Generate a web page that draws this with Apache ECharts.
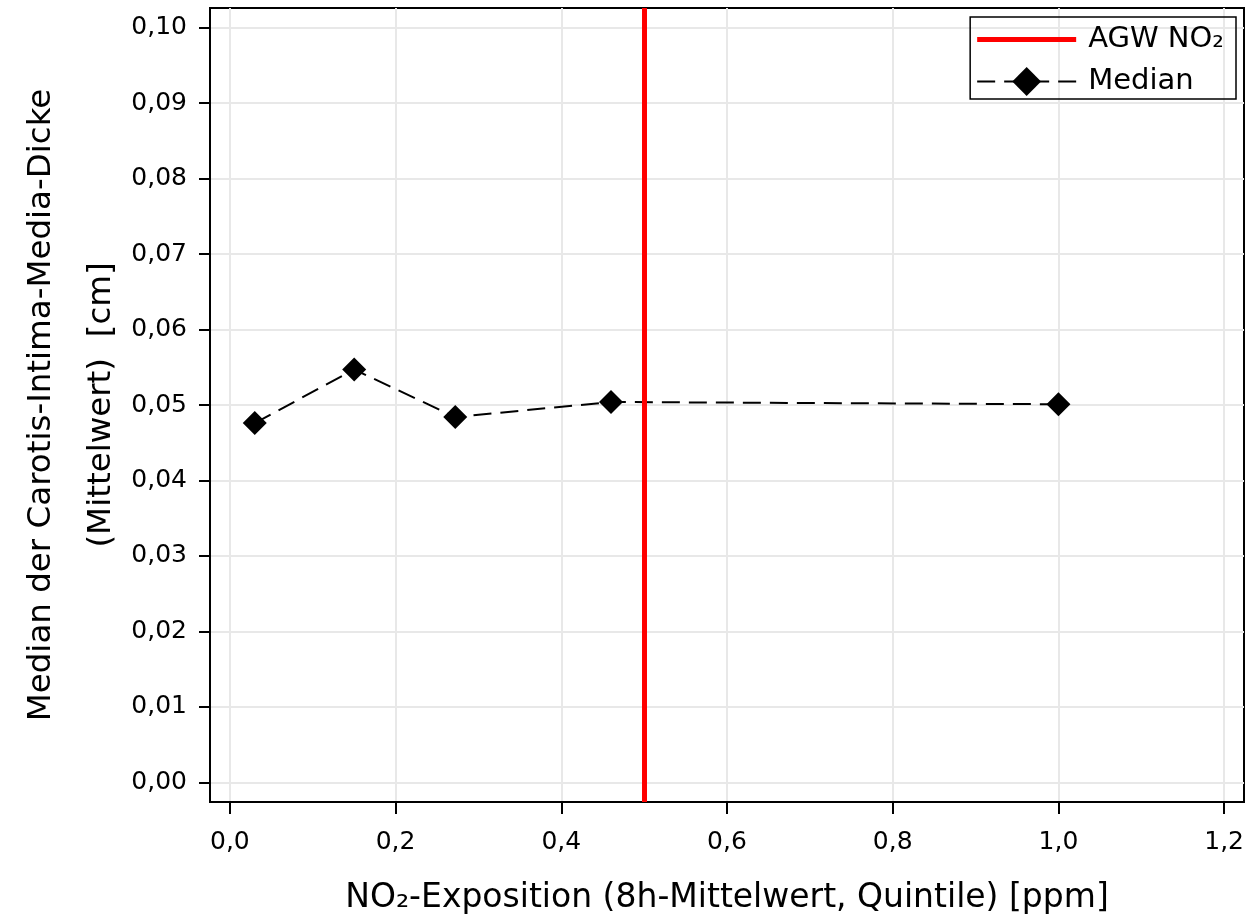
<!DOCTYPE html>
<html>
<head>
<meta charset="utf-8">
<script src="https://cdn.jsdelivr.net/npm/echarts@6/dist/echarts.min.js"></script>
<style>html,body{margin:0;padding:0;background:#fff}#chart{width:1257px;height:919px}</style>
</head>
<body>
<div id="chart"></div>
<script>
var xValues = [0.03, 0.15, 0.272, 0.46, 1.0];
var medianValues = [0.0476, 0.0547, 0.0484, 0.0504, 0.0501];
var agwLimit = 0.5;
var xTicks = [0.0, 0.2, 0.4, 0.6, 0.8, 1.0, 1.2];
var yTicks = [0.00, 0.01, 0.02, 0.03, 0.04, 0.05, 0.06, 0.07, 0.08, 0.09, 0.10];
var seriesNames = ['AGW NO\u2082', 'Median'];
var xTitle = 'NO\u2082-Exposition (8h-Mittelwert, Quintile) [ppm]';
var yTitle = 'Median der Carotis-Intima-Media-Dicke\n(Mittelwert)  [cm]';

var FONT = 'DejaVu Sans';
var chart = echarts.init(document.getElementById('chart'));
var pts = xValues.map(function (x, i) { return [x, medianValues[i]]; });
chart.setOption({
  animation: false,
  textStyle: { fontFamily: FONT, color: '#000' },
  grid: { left: 210, right: 13, top: 8, bottom: 117, outerBoundsMode: 'none', containLabel: false,
    show: true, borderColor: '#000', borderWidth: 2, backgroundColor: 'transparent' },
  legend: {
    orient: 'vertical', right: 21, top: 17,
    padding: [8, 12, 3, 6],
    itemGap: 13, itemWidth: 99, itemHeight: 36,
    borderColor: '#000', borderWidth: 1.5,
    textStyle: { fontFamily: FONT, fontSize: 29, color: '#000', padding: [0, 0, 0, 7] },
    data: [
      { name: seriesNames[0], icon: 'path://M0,0L100,0L100,5L0,5Z' },
      { name: seriesNames[1] }
    ]
  },
  xAxis: {
    type: 'value', min: -0.024, max: 1.224,
    name: xTitle, nameLocation: 'middle', nameGap: 80, nameMoveOverlap: false,
    nameTextStyle: { fontFamily: FONT, fontSize: 33, color: '#000' },
    axisLine: { show: true, onZero: false, lineStyle: { color: '#000', width: 2 } },
    axisTick: { show: true, inside: false, length: 12, lineStyle: { color: '#000', width: 2 }, customValues: xTicks },
    axisLabel: { margin: 28, fontFamily: FONT, fontSize: 25, color: '#000', customValues: xTicks,
      formatter: function (v) { return v.toFixed(1).replace('.', ','); } },
    splitLine: { show: true, lineStyle: { color: '#e8e8e8', width: 2 } }
  },
  yAxis: {
    type: 'value', min: -0.0026, max: 0.1026,
    name: yTitle, nameLocation: 'middle', nameGap: 78, nameRotate: 90, nameMoveOverlap: false,
    nameTextStyle: { fontFamily: FONT, fontSize: 32.5, color: '#000', lineHeight: 60 },
    axisLine: { show: true, onZero: false, lineStyle: { color: '#000', width: 2 } },
    axisTick: { show: true, inside: false, length: 11, lineStyle: { color: '#000', width: 2 }, customValues: yTicks },
    axisLabel: { margin: 23, fontFamily: FONT, fontSize: 25, color: '#000', customValues: yTicks,
      formatter: function (v) { return v.toFixed(2).replace('.', ','); } },
    splitLine: { show: true, lineStyle: { color: '#e8e8e8', width: 2 } }
  },
  series: [
    {
      name: seriesNames[1], type: 'line', data: pts,
      symbol: 'diamond', symbolSize: 24,
      itemStyle: { color: '#000' },
      lineStyle: { color: '#000', width: 2, type: [18, 9] },
      z: 3
    },
    {
      name: seriesNames[0], type: 'line', data: [],
      symbol: 'none',
      itemStyle: { color: '#ff0000' },
      lineStyle: { color: '#ff0000', width: 5 },
      markLine: {
        silent: true, symbol: 'none', label: { show: false },
        lineStyle: { color: '#ff0000', width: 5, type: 'solid' },
        data: [{ xAxis: agwLimit }]
      },
      z: 4
    }
  ]
});
</script>
</body>
</html>
